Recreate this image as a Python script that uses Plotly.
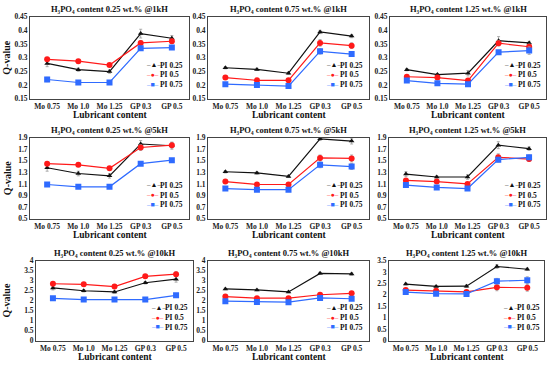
import plotly.graph_objects as go

categories = ["Mo 0.75", "Mo 1.0", "Mo 1.25", "GP 0.3", "GP 0.5"]
series_names = ["PI 0.25", "PI 0.5", "PI 0.75"]

# Q-values, each: [PI 0.25, PI 0.5, PI 0.75]
q_025_1k = [[0.279, 0.256, 0.249, 0.388, 0.371], [0.294, 0.287, 0.273, 0.354, 0.360], [0.220, 0.209, 0.209, 0.334, 0.337]]
q_075_1k = [[0.263, 0.257, 0.243, 0.394, 0.379], [0.227, 0.217, 0.217, 0.354, 0.344], [0.203, 0.200, 0.196, 0.323, 0.313]]
q_125_1k = [[0.256, 0.238, 0.243, 0.362, 0.354], [0.230, 0.227, 0.216, 0.353, 0.340], [0.216, 0.206, 0.203, 0.320, 0.326]]
q_025_5k = [[1.38, 1.28, 1.24, 1.79, 1.76], [1.45, 1.43, 1.37, 1.73, 1.77], [1.09, 1.05, 1.05, 1.45, 1.51]]
q_075_5k = [[1.31, 1.29, 1.23, 1.88, 1.84], [1.14, 1.09, 1.09, 1.55, 1.54], [1.02, 1.00, 1.00, 1.43, 1.40]]
q_125_5k = [[1.27, 1.22, 1.22, 1.77, 1.71], [1.16, 1.14, 1.10, 1.56, 1.53], [1.08, 1.04, 1.02, 1.52, 1.56]]
q_025_10k = [[2.63, 2.49, 2.43, 2.89, 3.07], [2.84, 2.81, 2.70, 3.21, 3.32], [2.11, 2.05, 2.05, 2.05, 2.26]]
q_075_10k = [[2.58, 2.53, 2.43, 3.36, 3.33], [2.20, 2.12, 2.12, 2.29, 2.36], [1.97, 1.93, 1.92, 2.13, 2.09]]
q_125_10k = [[2.47, 2.37, 2.38, 3.24, 3.12], [2.21, 2.18, 2.13, 2.33, 2.31], [2.12, 2.05, 2.04, 2.60, 2.64]]

# error bar half-widths (estimated)
e_025_1k = [[0.012, 0.006, 0.006, 0.016, 0.010], [0.005, 0.004, 0.005, 0.008, 0.008], [0.008, 0.004, 0.007, 0.006, 0.005]]
e_075_1k = [[0.004, 0.004, 0.004, 0.006, 0.006], [0.004, 0.004, 0.004, 0.012, 0.010], [0.004, 0.004, 0.004, 0.010, 0.008]]
e_125_1k = [[0.004, 0.004, 0.010, 0.015, 0.006], [0.004, 0.004, 0.006, 0.010, 0.010], [0.006, 0.004, 0.004, 0.006, 0.014]]
e_025_5k = [[0.06, 0.04, 0.04, 0.06, 0.06], [0.03, 0.03, 0.03, 0.05, 0.05], [0.02, 0.02, 0.02, 0.02, 0.02]]
e_075_5k = [[0.02, 0.02, 0.02, 0.03, 0.05], [0.02, 0.02, 0.02, 0.05, 0.06], [0.02, 0.02, 0.02, 0.05, 0.05]]
e_125_5k = [[0.04, 0.02, 0.04, 0.06, 0.03], [0.03, 0.02, 0.02, 0.06, 0.04], [0.02, 0.02, 0.02, 0.04, 0.04]]
e_025_10k = [[0.10, 0.06, 0.06, 0.06, 0.15], [0.04, 0.04, 0.04, 0.08, 0.12], [0.04, 0.03, 0.03, 0.03, 0.04]]
e_075_10k = [[0.04, 0.04, 0.04, 0.05, 0.06], [0.04, 0.04, 0.04, 0.05, 0.05], [0.04, 0.04, 0.04, 0.06, 0.06]]
e_125_10k = [[0.04, 0.04, 0.06, 0.08, 0.05], [0.04, 0.04, 0.04, 0.15, 0.15], [0.04, 0.04, 0.04, 0.12, 0.15]]

ticks_1k = [0.15, 0.2, 0.25, 0.3, 0.35, 0.4, 0.45]
ticks_5k = [0.5, 0.7, 0.9, 1.1, 1.3, 1.5, 1.7, 1.9]
ticks_10k = [0, 0.5, 1, 1.5, 2, 2.5, 3, 3.5, 4]
ticks_10k_b = [0, 0.5, 1, 1.5, 2, 2.5, 3, 3.5]

titles = [
    ["0.25", "1kH"], ["0.75", "1kH"], ["1.25", "1kH"],
    ["0.25", "5kH"], ["0.75", "5kH"], ["1.25", "5kH"],
    ["0.25", "10kH"], ["0.75", "10kH"], ["1.25", "10kH"],
]
values = [q_025_1k, q_075_1k, q_125_1k, q_025_5k, q_075_5k, q_125_5k, q_025_10k, q_075_10k, q_125_10k]
errors = [e_025_1k, e_075_1k, e_125_1k, e_025_5k, e_075_5k, e_125_5k, e_025_10k, e_075_10k, e_125_10k]
yticks = [ticks_1k, ticks_1k, ticks_1k, ticks_5k, ticks_5k, ticks_5k, ticks_10k, ticks_10k, ticks_10k_b]

W, H = 550, 368
FONT = "Liberation Serif"
colors = ["#111111", "#ff1a1a", "#2f6bff"]
symbols = ["triangle-up", "circle", "square"]
msizes = [5, 6, 6]
leg_syms = ["–▲–", "–●–", "–■–"]

# plot boxes in pixels: (left, right, top, bottom)
boxes = [
    (30, 189, 13, 97), (208, 369, 13, 97), (390, 546, 13, 97),
    (30, 189, 137, 220), (208, 369, 137, 220), (389, 546, 137, 220),
    (36, 193, 263, 345), (208, 369, 263, 345), (389, 544, 263, 345),
]

fig = go.Figure()
annotations = []
tickfont = dict(family=FONT, size=7.5, color="#222", weight="bold")

for i in range(9):
    l, r, t, b = boxes[i]
    xa = "xaxis" if i == 0 else f"xaxis{i+1}"
    ya = "yaxis" if i == 0 else f"yaxis{i+1}"
    xr = "x" if i == 0 else f"x{i+1}"
    yr = "y" if i == 0 else f"y{i+1}"
    for s in range(3):
        fig.add_trace(go.Scatter(
            x=categories, y=values[i][s], xaxis=xr, yaxis=yr,
            mode="lines+markers", name=series_names[s], showlegend=False,
            line=dict(color=colors[s], width=1.2),
            marker=dict(symbol=symbols[s], size=msizes[s], color=colors[s]),
            error_y=dict(type="data", array=errors[i][s], color="#9a9a9a",
                         thickness=0.8, width=1.5),
        ))
    tv = yticks[i]
    fig.update_layout({
        xa: dict(domain=[l / W, r / W], anchor=yr, showline=True, mirror=True,
                 linecolor="#444444", linewidth=1, ticks="", showgrid=False,
                 zeroline=False, tickfont=tickfont,
                 range=[-0.55, 4.55], fixedrange=True),
        ya: dict(domain=[1 - b / H, 1 - t / H], anchor=xr, showline=True, mirror=True,
                 linecolor="#444444", linewidth=1, ticks="", showgrid=False,
                 zeroline=False, range=[tv[0], tv[-1]], tickvals=tv,
                 ticktext=[f"{v:g}" for v in tv],
                 tickfont=tickfont, fixedrange=True),
    })
    # panel title
    annotations.append(dict(
        xref="paper", yref="paper", x=(l + r) / 2 / W, y=1 - (t - 8) / H,
        xanchor="center", yanchor="middle", showarrow=False,
        text=f"H₃PO₄ content {titles[i][0]} wt.% @{titles[i][1]}",
        font=dict(family=FONT, size=8.5, color="#111", weight="bold"),
    ))
    # x axis title
    annotations.append(dict(
        xref="paper", yref="paper", x=(l + r) / 2 / W, y=1 - (b + 17) / H,
        xanchor="center", yanchor="middle", showarrow=False,
        text="Lubricant content", font=dict(family=FONT, size=9.5, color="#111", weight="bold"),
    ))
    # y axis title on first column
    if i % 3 == 0:
        annotations.append(dict(
            xref="paper", yref="paper", x=7 / W, y=1 - (t + b) / 2 / H,
            xanchor="center", yanchor="middle", showarrow=False, textangle=-90,
            text="Q-value", font=dict(family=FONT, size=10, color="#111", weight="bold"),
        ))
    # legend (per panel)
    lx = l + (r - l) * 0.72
    ly0 = t + (b - t) * 0.59
    for s in range(3):
        yy = 1 - (ly0 + 10 * s) / H
        annotations.append(dict(
            xref="paper", yref="paper", x=lx / W, y=yy,
            xanchor="left", yanchor="middle", showarrow=False,
            text=leg_syms[s], font=dict(family=FONT, size=7, color=colors[s]),
        ))
        annotations.append(dict(
            xref="paper", yref="paper", x=(lx + 14) / W, y=yy,
            xanchor="left", yanchor="middle", showarrow=False,
            text=series_names[s], font=dict(family=FONT, size=7.5, color="#111", weight="bold"),
        ))

fig.update_layout(
    width=W, height=H, margin=dict(l=0, r=0, t=0, b=0),
    paper_bgcolor="white", plot_bgcolor="white",
    annotations=annotations, showlegend=False,
)

fig.write_html(
    "out.html",
    config={"displayModeBar": False},
    post_script="document.body.style.margin='0';document.body.style.padding='0';",
)
